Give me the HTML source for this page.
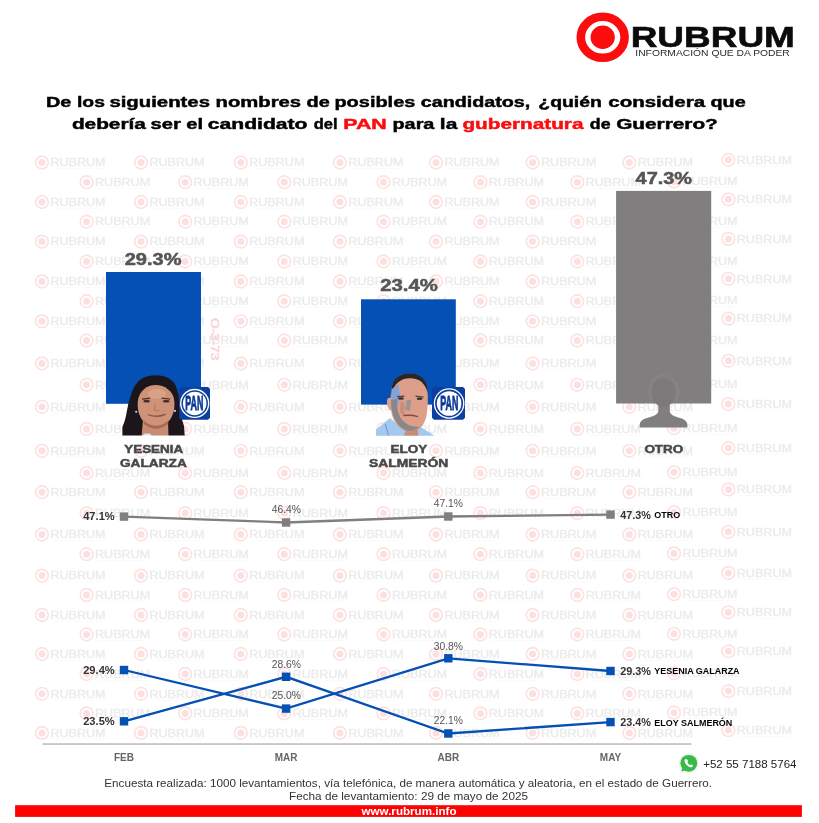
<!DOCTYPE html>
<html lang="es"><head><meta charset="utf-8"><title>Rubrum</title>
<style>
html,body{margin:0;padding:0;background:#fff;}
body{width:819px;height:823px;overflow:hidden;font-family:"Liberation Sans",sans-serif;}
svg{display:block;}
svg text{font-family:"Liberation Sans",sans-serif;}
</style></head><body>
<svg width="819" height="823" viewBox="0 0 819 823">
<defs>
<g id="wm">
  <circle cx="0" cy="0" r="6.3" fill="none" stroke="#fce2e2" stroke-width="1.7"/>
  <circle cx="0" cy="0" r="3.5" fill="#fce0e0"/>
  <text x="8.4" y="3.7" font-size="10.1" fill="#ebebeb" stroke="#ebebeb" stroke-width="0.35" textLength="55.2" lengthAdjust="spacingAndGlyphs">RUBRUM</text>
  <rect x="11" y="5.8" width="50" height="0.7" fill="#f8f8f8"/>
</g>
<g id="panring">
  <text x="-9.1" y="6.9" font-size="19.8" font-weight="bold" fill="#0c3a9a" stroke="#0c3a9a" stroke-width="0.9" textLength="18.1" lengthAdjust="spacingAndGlyphs">PAN</text>
</g>
<clipPath id="c1"><rect x="120" y="370" width="68" height="65.6"/></clipPath>
<clipPath id="c2"><rect x="374" y="370" width="62" height="65.8"/></clipPath>
<clipPath id="c3"><rect x="616.1" y="190.9" width="95.1" height="212.6"/></clipPath>
<filter id="b2" x="0" y="0" width="819" height="823" filterUnits="userSpaceOnUse"><feGaussianBlur stdDeviation="0.45"/></filter>
<filter id="b1"><feGaussianBlur stdDeviation="0.6"/></filter>
</defs>
<rect width="819" height="823" fill="#fff"/>
<g opacity="0.999">

<g id="watermark" filter="url(#b2)">
<use href="#wm" x="42" y="162.5"/>
<use href="#wm" x="141" y="162.5"/>
<use href="#wm" x="240.8" y="162.5"/>
<use href="#wm" x="339.9" y="162.5"/>
<use href="#wm" x="436" y="162.5"/>
<use href="#wm" x="532.6" y="162.5"/>
<use href="#wm" x="629.3" y="162.5"/>
<use href="#wm" x="728.4" y="159.8"/>
<use href="#wm" x="86.6" y="182.2"/>
<use href="#wm" x="185.2" y="182.2"/>
<use href="#wm" x="284.3" y="182.2"/>
<use href="#wm" x="383.5" y="182.2"/>
<use href="#wm" x="480.4" y="182.2"/>
<use href="#wm" x="577.3" y="182.2"/>
<use href="#wm" x="674" y="181.5"/>
<use href="#wm" x="42" y="202"/>
<use href="#wm" x="141" y="202"/>
<use href="#wm" x="240.8" y="202"/>
<use href="#wm" x="339.9" y="202"/>
<use href="#wm" x="436" y="202"/>
<use href="#wm" x="532.6" y="202"/>
<use href="#wm" x="629.3" y="202"/>
<use href="#wm" x="728.4" y="199.3"/>
<use href="#wm" x="86.6" y="221.7"/>
<use href="#wm" x="185.2" y="221.7"/>
<use href="#wm" x="284.3" y="221.7"/>
<use href="#wm" x="383.5" y="221.7"/>
<use href="#wm" x="480.4" y="221.7"/>
<use href="#wm" x="577.3" y="221.7"/>
<use href="#wm" x="674" y="221.0"/>
<use href="#wm" x="42" y="241.6"/>
<use href="#wm" x="141" y="241.6"/>
<use href="#wm" x="240.8" y="241.6"/>
<use href="#wm" x="339.9" y="241.6"/>
<use href="#wm" x="436" y="241.6"/>
<use href="#wm" x="532.6" y="241.6"/>
<use href="#wm" x="629.3" y="241.6"/>
<use href="#wm" x="728.4" y="238.9"/>
<use href="#wm" x="86.6" y="261.5"/>
<use href="#wm" x="185.2" y="261.5"/>
<use href="#wm" x="284.3" y="261.5"/>
<use href="#wm" x="383.5" y="261.5"/>
<use href="#wm" x="480.4" y="261.5"/>
<use href="#wm" x="577.3" y="261.5"/>
<use href="#wm" x="674" y="260.8"/>
<use href="#wm" x="42" y="281.5"/>
<use href="#wm" x="141" y="281.5"/>
<use href="#wm" x="240.8" y="281.5"/>
<use href="#wm" x="339.9" y="281.5"/>
<use href="#wm" x="436" y="281.5"/>
<use href="#wm" x="532.6" y="281.5"/>
<use href="#wm" x="629.3" y="281.5"/>
<use href="#wm" x="728.4" y="278.8"/>
<use href="#wm" x="86.6" y="301.2"/>
<use href="#wm" x="185.2" y="301.2"/>
<use href="#wm" x="284.3" y="301.2"/>
<use href="#wm" x="383.5" y="301.2"/>
<use href="#wm" x="480.4" y="301.2"/>
<use href="#wm" x="577.3" y="301.2"/>
<use href="#wm" x="674" y="300.5"/>
<use href="#wm" x="42" y="321.3"/>
<use href="#wm" x="141" y="321.3"/>
<use href="#wm" x="240.8" y="321.3"/>
<use href="#wm" x="339.9" y="321.3"/>
<use href="#wm" x="436" y="321.3"/>
<use href="#wm" x="532.6" y="321.3"/>
<use href="#wm" x="629.3" y="321.3"/>
<use href="#wm" x="728.4" y="318.6"/>
<use href="#wm" x="86.6" y="340.5"/>
<use href="#wm" x="185.2" y="340.5"/>
<use href="#wm" x="284.3" y="340.5"/>
<use href="#wm" x="383.5" y="340.5"/>
<use href="#wm" x="480.4" y="340.5"/>
<use href="#wm" x="577.3" y="340.5"/>
<use href="#wm" x="674" y="339.8"/>
<use href="#wm" x="42" y="363.5"/>
<use href="#wm" x="141" y="363.5"/>
<use href="#wm" x="240.8" y="363.5"/>
<use href="#wm" x="339.9" y="363.5"/>
<use href="#wm" x="436" y="363.5"/>
<use href="#wm" x="532.6" y="363.5"/>
<use href="#wm" x="629.3" y="363.5"/>
<use href="#wm" x="728.4" y="360.8"/>
<use href="#wm" x="86.6" y="384.8"/>
<use href="#wm" x="185.2" y="384.8"/>
<use href="#wm" x="284.3" y="384.8"/>
<use href="#wm" x="383.5" y="384.8"/>
<use href="#wm" x="480.4" y="384.8"/>
<use href="#wm" x="577.3" y="384.8"/>
<use href="#wm" x="674" y="384.1"/>
<use href="#wm" x="42" y="406.8"/>
<use href="#wm" x="141" y="406.8"/>
<use href="#wm" x="240.8" y="406.8"/>
<use href="#wm" x="339.9" y="406.8"/>
<use href="#wm" x="436" y="406.8"/>
<use href="#wm" x="532.6" y="406.8"/>
<use href="#wm" x="629.3" y="406.8"/>
<use href="#wm" x="728.4" y="404.1"/>
<use href="#wm" x="86.6" y="428.9"/>
<use href="#wm" x="185.2" y="428.9"/>
<use href="#wm" x="284.3" y="428.9"/>
<use href="#wm" x="383.5" y="428.9"/>
<use href="#wm" x="480.4" y="428.9"/>
<use href="#wm" x="577.3" y="428.9"/>
<use href="#wm" x="674" y="428.2"/>
<use href="#wm" x="42" y="450.8"/>
<use href="#wm" x="141" y="450.8"/>
<use href="#wm" x="240.8" y="450.8"/>
<use href="#wm" x="339.9" y="450.8"/>
<use href="#wm" x="436" y="450.8"/>
<use href="#wm" x="532.6" y="450.8"/>
<use href="#wm" x="629.3" y="450.8"/>
<use href="#wm" x="728.4" y="448.1"/>
<use href="#wm" x="86.6" y="473"/>
<use href="#wm" x="185.2" y="473"/>
<use href="#wm" x="284.3" y="473"/>
<use href="#wm" x="383.5" y="473"/>
<use href="#wm" x="480.4" y="473"/>
<use href="#wm" x="577.3" y="473"/>
<use href="#wm" x="674" y="472.3"/>
<use href="#wm" x="42" y="492.2"/>
<use href="#wm" x="141" y="492.2"/>
<use href="#wm" x="240.8" y="492.2"/>
<use href="#wm" x="339.9" y="492.2"/>
<use href="#wm" x="436" y="492.2"/>
<use href="#wm" x="532.6" y="492.2"/>
<use href="#wm" x="629.3" y="492.2"/>
<use href="#wm" x="728.4" y="489.5"/>
<use href="#wm" x="86.6" y="513.1"/>
<use href="#wm" x="185.2" y="513.1"/>
<use href="#wm" x="284.3" y="513.1"/>
<use href="#wm" x="383.5" y="513.1"/>
<use href="#wm" x="480.4" y="513.1"/>
<use href="#wm" x="577.3" y="513.1"/>
<use href="#wm" x="674" y="512.4"/>
<use href="#wm" x="42" y="534.5"/>
<use href="#wm" x="141" y="534.5"/>
<use href="#wm" x="240.8" y="534.5"/>
<use href="#wm" x="339.9" y="534.5"/>
<use href="#wm" x="436" y="534.5"/>
<use href="#wm" x="532.6" y="534.5"/>
<use href="#wm" x="629.3" y="534.5"/>
<use href="#wm" x="728.4" y="531.8"/>
<use href="#wm" x="86.6" y="554.2"/>
<use href="#wm" x="185.2" y="554.2"/>
<use href="#wm" x="284.3" y="554.2"/>
<use href="#wm" x="383.5" y="554.2"/>
<use href="#wm" x="480.4" y="554.2"/>
<use href="#wm" x="577.3" y="554.2"/>
<use href="#wm" x="674" y="553.5"/>
<use href="#wm" x="42" y="575.6"/>
<use href="#wm" x="141" y="575.6"/>
<use href="#wm" x="240.8" y="575.6"/>
<use href="#wm" x="339.9" y="575.6"/>
<use href="#wm" x="436" y="575.6"/>
<use href="#wm" x="532.6" y="575.6"/>
<use href="#wm" x="629.3" y="575.6"/>
<use href="#wm" x="728.4" y="572.9"/>
<use href="#wm" x="86.6" y="594.9"/>
<use href="#wm" x="185.2" y="594.9"/>
<use href="#wm" x="284.3" y="594.9"/>
<use href="#wm" x="383.5" y="594.9"/>
<use href="#wm" x="480.4" y="594.9"/>
<use href="#wm" x="577.3" y="594.9"/>
<use href="#wm" x="674" y="594.1999999999999"/>
<use href="#wm" x="42" y="615"/>
<use href="#wm" x="141" y="615"/>
<use href="#wm" x="240.8" y="615"/>
<use href="#wm" x="339.9" y="615"/>
<use href="#wm" x="436" y="615"/>
<use href="#wm" x="532.6" y="615"/>
<use href="#wm" x="629.3" y="615"/>
<use href="#wm" x="728.4" y="612.3"/>
<use href="#wm" x="86.6" y="634.5"/>
<use href="#wm" x="185.2" y="634.5"/>
<use href="#wm" x="284.3" y="634.5"/>
<use href="#wm" x="383.5" y="634.5"/>
<use href="#wm" x="480.4" y="634.5"/>
<use href="#wm" x="577.3" y="634.5"/>
<use href="#wm" x="674" y="633.8"/>
<use href="#wm" x="42" y="654"/>
<use href="#wm" x="141" y="654"/>
<use href="#wm" x="240.8" y="654"/>
<use href="#wm" x="339.9" y="654"/>
<use href="#wm" x="436" y="654"/>
<use href="#wm" x="532.6" y="654"/>
<use href="#wm" x="629.3" y="654"/>
<use href="#wm" x="728.4" y="651.3"/>
<use href="#wm" x="86.6" y="674"/>
<use href="#wm" x="185.2" y="674"/>
<use href="#wm" x="284.3" y="674"/>
<use href="#wm" x="383.5" y="674"/>
<use href="#wm" x="480.4" y="674"/>
<use href="#wm" x="577.3" y="674"/>
<use href="#wm" x="674" y="673.3"/>
<use href="#wm" x="42" y="693.8"/>
<use href="#wm" x="141" y="693.8"/>
<use href="#wm" x="240.8" y="693.8"/>
<use href="#wm" x="339.9" y="693.8"/>
<use href="#wm" x="436" y="693.8"/>
<use href="#wm" x="532.6" y="693.8"/>
<use href="#wm" x="629.3" y="693.8"/>
<use href="#wm" x="728.4" y="691.0999999999999"/>
<use href="#wm" x="86.6" y="713.4"/>
<use href="#wm" x="185.2" y="713.4"/>
<use href="#wm" x="284.3" y="713.4"/>
<use href="#wm" x="383.5" y="713.4"/>
<use href="#wm" x="480.4" y="713.4"/>
<use href="#wm" x="577.3" y="713.4"/>
<use href="#wm" x="674" y="712.6999999999999"/>
<use href="#wm" x="42" y="732.9"/>
<use href="#wm" x="141" y="732.9"/>
<use href="#wm" x="240.8" y="732.9"/>
<use href="#wm" x="339.9" y="732.9"/>
<use href="#wm" x="436" y="732.9"/>
<use href="#wm" x="532.6" y="732.9"/>
<use href="#wm" x="629.3" y="732.9"/>
<use href="#wm" x="728.4" y="730.1999999999999"/>
</g>
<g id="logo">
<ellipse cx="602.7" cy="37.3" rx="21.9" ry="20.5" fill="none" stroke="#fb0d0d" stroke-width="8.6"/>
<ellipse cx="602.7" cy="37.3" rx="12.1" ry="11.7" fill="#fb0d0d"/>

<text x="630.7" y="46.8" font-size="29.4" fill="#0b0b0b" font-weight="bold" text-anchor="start" textLength="164.2" lengthAdjust="spacingAndGlyphs" stroke="#0b0b0b" stroke-width="0.6">RUBRUM</text>
<text x="635.3" y="55.6" font-size="8.7" fill="#2a2a2a" font-weight="normal" text-anchor="start" textLength="154.5" lengthAdjust="spacingAndGlyphs">INFORMACIÓN QUE DA PODER</text>
</g>
<g id="title" font-weight="bold" stroke-width="0.45">
<text x="45.9" y="107.3" font-size="14.7" fill="#000" font-weight="bold" text-anchor="start" textLength="25.4" lengthAdjust="spacingAndGlyphs" stroke="#000">De</text>
<text x="77" y="107.3" font-size="14.7" fill="#000" font-weight="bold" text-anchor="start" textLength="27.9" lengthAdjust="spacingAndGlyphs" stroke="#000">los</text>
<text x="109.4" y="107.3" font-size="14.7" fill="#000" font-weight="bold" text-anchor="start" textLength="100.6" lengthAdjust="spacingAndGlyphs" stroke="#000">siguientes</text>
<text x="215.6" y="107.3" font-size="14.7" fill="#000" font-weight="bold" text-anchor="start" textLength="85.5" lengthAdjust="spacingAndGlyphs" stroke="#000">nombres</text>
<text x="306.5" y="107.3" font-size="14.7" fill="#000" font-weight="bold" text-anchor="start" textLength="23.2" lengthAdjust="spacingAndGlyphs" stroke="#000">de</text>
<text x="334.4" y="107.3" font-size="14.7" fill="#000" font-weight="bold" text-anchor="start" textLength="81.0" lengthAdjust="spacingAndGlyphs" stroke="#000">posibles</text>
<text x="420.8" y="107.3" font-size="14.7" fill="#000" font-weight="bold" text-anchor="start" textLength="109.5" lengthAdjust="spacingAndGlyphs" stroke="#000">candidatos,</text>
<text x="538.3" y="107.3" font-size="14.7" fill="#000" font-weight="bold" text-anchor="start" textLength="63.6" lengthAdjust="spacingAndGlyphs" stroke="#000">¿quién</text>
<text x="608.3" y="107.3" font-size="14.7" fill="#000" font-weight="bold" text-anchor="start" textLength="96.8" lengthAdjust="spacingAndGlyphs" stroke="#000">considera</text>
<text x="710.5" y="107.3" font-size="14.7" fill="#000" font-weight="bold" text-anchor="start" textLength="35.2" lengthAdjust="spacingAndGlyphs" stroke="#000">que</text>
<text x="71.9" y="128.6" font-size="14.7" fill="#000" font-weight="bold" text-anchor="start" textLength="74.0" lengthAdjust="spacingAndGlyphs" stroke="#000">debería</text>
<text x="150.6" y="128.6" font-size="14.7" fill="#000" font-weight="bold" text-anchor="start" textLength="30.2" lengthAdjust="spacingAndGlyphs" stroke="#000">ser</text>
<text x="186.2" y="128.6" font-size="14.7" fill="#000" font-weight="bold" text-anchor="start" textLength="16.8" lengthAdjust="spacingAndGlyphs" stroke="#000">el</text>
<text x="207.8" y="128.6" font-size="14.7" fill="#000" font-weight="bold" text-anchor="start" textLength="99.7" lengthAdjust="spacingAndGlyphs" stroke="#000">candidato</text>
<text x="313.8" y="128.6" font-size="14.7" fill="#000" font-weight="bold" text-anchor="start" textLength="23.8" lengthAdjust="spacingAndGlyphs" stroke="#000">del</text>
<text x="343.3" y="128.6" font-size="14.7" fill="#fb0d0d" font-weight="bold" text-anchor="start" textLength="43.5" lengthAdjust="spacingAndGlyphs" stroke="#fb0d0d">PAN</text>
<text x="392.5" y="128.6" font-size="14.7" fill="#000" font-weight="bold" text-anchor="start" textLength="41.9" lengthAdjust="spacingAndGlyphs" stroke="#000">para</text>
<text x="439.8" y="128.6" font-size="14.7" fill="#000" font-weight="bold" text-anchor="start" textLength="17.5" lengthAdjust="spacingAndGlyphs" stroke="#000">la</text>
<text x="462.4" y="128.6" font-size="14.7" fill="#fb0d0d" font-weight="bold" text-anchor="start" textLength="121.1" lengthAdjust="spacingAndGlyphs" stroke="#fb0d0d">gubernatura</text>
<text x="589.8" y="128.6" font-size="14.7" fill="#000" font-weight="bold" text-anchor="start" textLength="20.7" lengthAdjust="spacingAndGlyphs" stroke="#000">de</text>
<text x="616.2" y="128.6" font-size="14.7" fill="#000" font-weight="bold" text-anchor="start" textLength="101.6" lengthAdjust="spacingAndGlyphs" stroke="#000">Guerrero?</text>
</g>
<rect x="106" y="272" width="95" height="131.8" fill="#0450b4"/>
<rect x="361" y="299.3" width="94.8" height="105.3" fill="#0450b4"/>
<rect x="616.1" y="190.9" width="95.1" height="212.6" fill="#807e7f"/>
<text x="124.7" y="265.4" font-size="15.9" fill="#555" font-weight="bold" text-anchor="start" textLength="56.8" lengthAdjust="spacingAndGlyphs" stroke="#555" stroke-width="0.5">29.3%</text>
<text x="380.2" y="290.8" font-size="15.9" fill="#555" font-weight="bold" text-anchor="start" textLength="57.7" lengthAdjust="spacingAndGlyphs" stroke="#555" stroke-width="0.5">23.4%</text>
<text x="635.6" y="184.0" font-size="15.9" fill="#555" font-weight="bold" text-anchor="start" textLength="56.5" lengthAdjust="spacingAndGlyphs" stroke="#555" stroke-width="0.5">47.3%</text>
<g clip-path="url(#c1)"><g filter="url(#b1)">
<path d="M156 375.2 C150 375.2 145 376.5 141.7 378.8 C139.5 380 138 381.5 136.9 383.2 C133.5 387 131.8 391.5 130.7 396 C129.3 400 128.3 403.5 127.7 407 C127 410 126.5 413 126 415.7 C125 420 123.8 424 122.4 427 L122.4 437 L184.8 437 L184 426 C182.8 422 181.8 419 181.3 415.7 C180.7 412 180 408.5 179.5 405 C179.3 402 179 399 178.7 396 C177.8 391 176.5 387 174.3 383 C171 378.5 164 375.2 156 375.2 Z" fill="#1c181a"/>
<path d="M141.5 437 L143 420 L168 420 L168.5 437 Z" fill="#c88c72"/>
<path d="M155.6 385 C147 385 139.5 391 138 400 C137 408 138.5 414 141.5 419 C145 424 150 426.8 155.6 426.8 C161.5 426.8 167 424 170.5 419 C174 413 175 407 174.2 400 C173 391 164.5 385 155.6 385 Z" fill="#cd9277"/>
<path d="M143.5 420.5 Q155.6 431 168.5 420.5 L168 424 Q155.6 433.5 144 424 Z" fill="#a9694f"/>
<ellipse cx="157" cy="394" rx="9" ry="5" fill="#d9a187"/>
<path d="M142 398.6 l8 -1 l0 1.3 l-8 0.9 Z M161.6 397.4 l8.6 1 l0 1.3 l-8.6 -1 Z" fill="#4b342e"/>
<ellipse cx="146.6" cy="401.3" rx="3.3" ry="1.2" fill="#3a2c2a"/>
<ellipse cx="166.2" cy="401.3" rx="3.3" ry="1.2" fill="#3a2c2a"/>
<path d="M155.3 404 L154.3 410 Q156.8 411.6 159.4 410" stroke="#b0735c" stroke-width="1" fill="none"/>
<path d="M148 414.6 Q156.5 418.2 165.5 414.2" stroke="#94554a" stroke-width="1.5" fill="none"/>
<circle cx="136.2" cy="411.8" r="1.1" fill="#c6cdd2"/><circle cx="175" cy="410.9" r="1.1" fill="#c6cdd2"/>
<path d="M141 437 L144.5 433.6 L150 433.6 L152.5 437 Z" fill="#dde4ec"/>
</g></g>
<path d="M181.2 387 L208 387 L210 389 L210 417.8 L208 419.8 L181.2 419.8 L179.2 417.8 L179.2 389 Z" fill="#0c3f9e"/><circle cx="194.7" cy="403.4" r="14.65" fill="#fff"/><circle cx="194.7" cy="403.4" r="12.5" fill="none" stroke="#0c3f9e" stroke-width="1.5"/><use href="#panring" x="194.45" y="403.5"/>
<g clip-path="url(#c2)"><g filter="url(#b1)">
<path d="M376 437 L376 429.5 L390 418 L397 424 L409 432 L419 426 L433.5 435 L433.5 437 Z" fill="#a3c9ee"/>
<path d="M410 373.7 C398 373.7 391.2 381 391 392 L390.6 398 C388 397 386.6 399 387 403 C387.4 407.5 389 410.5 391.2 410.5 C392 420 399 431.8 411 431.8 C420.5 431.8 426 423 427 412 C428 405 428 398 427.6 393 C427 381 421 373.7 410 373.7 Z" fill="#dd9f8a"/>
<path d="M391 395 C390.4 381 397 373.4 410 373.4 C421.5 373.4 427.6 380.5 427.8 393 C425 383 419.5 378.3 410 378.3 C400 378.3 394.2 384 391 395 Z" fill="#2b2523"/>
<path d="M391.3 389.5 L398.4 384.2 L400.2 397 L397 409.5 L391.5 410.5 Z" fill="#86a3d8"/>
<path d="M391 400 C390.6 412 395 424 404 429.5 C409 432 414.5 431.5 420 426.5 C413 427.5 406 425 401.5 419 C397.5 413 396.5 406 397.2 399 Z" fill="#898788"/>
<path d="M406.8 400 L405 409.2 L410 411 L411.2 400 Z" fill="#9c9594"/>
<path d="M400.6 401 L400 412 L404 417 L404.5 403 Z" fill="#c98e78"/>
<path d="M397 396 l7.4 -0.6 l0 1.4 l-7.4 0.6 Z M415.6 395.6 l8 0.8 l0 1.4 l-8 -0.8 Z" fill="#5a4540"/>
<ellipse cx="401" cy="398.5" rx="3" ry="1.2" fill="#3a3234"/>
<ellipse cx="419.6" cy="398.8" rx="3" ry="1.2" fill="#3a3234"/>
<path d="M403.5 415.6 Q410.5 414.4 418 416.6" stroke="#7e4d48" stroke-width="1.5" fill="none"/>
<path d="M403 437 L406 430.5 Q411 433 417.5 428 L418.5 437 Z" fill="#c58d76"/>
<path d="M385.5 424 L388.5 436" stroke="#5f86cc" stroke-width="0.8" fill="none"/>
</g></g>
<path d="M434 387 L463 387 L465 389 L465 417.8 L463 419.8 L434 419.8 L432 417.8 L432 389 Z" fill="#0c3f9e"/><circle cx="449.1" cy="403.45" r="15.3" fill="#fff"/><circle cx="449.1" cy="403.45" r="13.15" fill="none" stroke="#0c3f9e" stroke-width="1.7"/><use href="#panring" x="449.45" y="403.5"/>
<g fill="#807e7f">
<ellipse clip-path="url(#c3)" cx="663.6" cy="392" rx="14.4" ry="16.4" fill="none" stroke="#8c8a8b" stroke-width="2" stroke-dasharray="1 0.8"/>
<path d="M658.3 403 L658.3 411 C658.3 415 652 416.5 647 418 C642 419.5 639.7 422 639.7 425 L639.7 427.4 L687.4 427.4 L687.4 425 C687.4 422 685 419.5 680 418 C675 416.5 669.8 415 669.8 411 L669.8 403 Z"/>
<path d="M663.4 379.3 C656.5 379.3 652.8 383.5 652.8 390 L652.8 396 C652.8 402 657 406.5 663.4 406.5 C670 406.5 674.1 402 674.1 396 L674.1 390 C674.1 383.5 670.3 379.3 663.4 379.3 Z" fill="#7b797a"/>
</g>
<text transform="translate(210.6,318) rotate(90)" font-size="10.4" fill="#fbd0d0" stroke="#fbd0d0" stroke-width="0.4" textLength="42.3" lengthAdjust="spacingAndGlyphs">O-3-73</text>
<text x="124.2" y="452.5" font-size="10.4" fill="#484848" font-weight="bold" text-anchor="start" textLength="59.1" lengthAdjust="spacingAndGlyphs" stroke="#484848" stroke-width="0.45">YESENIA</text>
<text x="119.9" y="466.8" font-size="10.4" fill="#484848" font-weight="bold" text-anchor="start" textLength="66.9" lengthAdjust="spacingAndGlyphs" stroke="#484848" stroke-width="0.45">GALARZA</text>
<text x="390.6" y="452.9" font-size="10.4" fill="#484848" font-weight="bold" text-anchor="start" textLength="36.7" lengthAdjust="spacingAndGlyphs" stroke="#484848" stroke-width="0.45">ELOY</text>
<text x="369.0" y="467.0" font-size="10.4" fill="#484848" font-weight="bold" text-anchor="start" textLength="79.3" lengthAdjust="spacingAndGlyphs" stroke="#484848" stroke-width="0.45">SALMERÓN</text>
<text x="644.4" y="452.7" font-size="10.4" fill="#484848" font-weight="bold" text-anchor="start" textLength="38.9" lengthAdjust="spacingAndGlyphs" stroke="#484848" stroke-width="0.45">OTRO</text>
<rect x="42.5" y="743.2" width="649" height="1.7" fill="#c2c2c2"/>
<polyline points="124,516.6 286.1,522.5 448.3,516.5 610.5,514.6" fill="none" stroke="#807e7f" stroke-width="2.3"/><rect x="119.8" y="512.4" width="8.4" height="8.4" fill="#807e7f"/><rect x="281.90000000000003" y="518.3" width="8.4" height="8.4" fill="#807e7f"/><rect x="444.1" y="512.3" width="8.4" height="8.4" fill="#807e7f"/><rect x="606.3" y="510.40000000000003" width="8.4" height="8.4" fill="#807e7f"/>
<polyline points="124,670 286.1,708.6 448.3,658.3 610.5,671" fill="none" stroke="#0450b4" stroke-width="2.3"/><rect x="119.8" y="665.8" width="8.4" height="8.4" fill="#0450b4"/><rect x="281.90000000000003" y="704.4" width="8.4" height="8.4" fill="#0450b4"/><rect x="444.1" y="654.0999999999999" width="8.4" height="8.4" fill="#0450b4"/><rect x="606.3" y="666.8" width="8.4" height="8.4" fill="#0450b4"/>
<polyline points="124,721.3 286.1,676.8 448.3,733.5 610.5,722.1" fill="none" stroke="#0450b4" stroke-width="2.3"/><rect x="119.8" y="717.0999999999999" width="8.4" height="8.4" fill="#0450b4"/><rect x="281.90000000000003" y="672.5999999999999" width="8.4" height="8.4" fill="#0450b4"/><rect x="444.1" y="729.3" width="8.4" height="8.4" fill="#0450b4"/><rect x="606.3" y="717.9" width="8.4" height="8.4" fill="#0450b4"/>
<text x="83.2" y="520.3" font-size="10.3" fill="#333" font-weight="bold" text-anchor="start" textLength="31.5" lengthAdjust="spacingAndGlyphs">47.1%</text>
<text x="83.2" y="673.8" font-size="10.3" fill="#333" font-weight="bold" text-anchor="start" textLength="31.5" lengthAdjust="spacingAndGlyphs">29.4%</text>
<text x="83.2" y="725.3" font-size="10.3" fill="#333" font-weight="bold" text-anchor="start" textLength="31.5" lengthAdjust="spacingAndGlyphs">23.5%</text>
<text x="286.3" y="513" font-size="10.3" fill="#555" font-weight="normal" text-anchor="middle">46.4%</text>
<text x="448.3" y="507.2" font-size="10.3" fill="#555" font-weight="normal" text-anchor="middle">47.1%</text>
<text x="286.3" y="668.3" font-size="10.3" fill="#555" font-weight="normal" text-anchor="middle">28.6%</text>
<text x="286.3" y="699.2" font-size="10.3" fill="#555" font-weight="normal" text-anchor="middle">25.0%</text>
<text x="448.3" y="649.5" font-size="10.3" fill="#555" font-weight="normal" text-anchor="middle">30.8%</text>
<text x="448.3" y="724" font-size="10.3" fill="#555" font-weight="normal" text-anchor="middle">22.1%</text>
<text x="620.2" y="518.8" font-size="10.3" fill="#333" font-weight="bold" text-anchor="start" textLength="30.8" lengthAdjust="spacingAndGlyphs">47.3%</text>
<text x="620.2" y="674.8" font-size="10.3" fill="#333" font-weight="bold" text-anchor="start" textLength="30.8" lengthAdjust="spacingAndGlyphs">29.3%</text>
<text x="620.2" y="725.9" font-size="10.3" fill="#333" font-weight="bold" text-anchor="start" textLength="30.8" lengthAdjust="spacingAndGlyphs">23.4%</text>
<text x="654.3" y="518.4" font-size="8.8" fill="#000" font-weight="bold" text-anchor="start" textLength="25.9" lengthAdjust="spacingAndGlyphs">OTRO</text>
<text x="654.3" y="674.4" font-size="8.8" fill="#000" font-weight="bold" text-anchor="start" textLength="85.3" lengthAdjust="spacingAndGlyphs">YESENIA GALARZA</text>
<text x="654.3" y="725.5" font-size="8.8" fill="#000" font-weight="bold" text-anchor="start" textLength="78" lengthAdjust="spacingAndGlyphs">ELOY SALMERÓN</text>
<text x="124" y="761.3" font-size="10" fill="#666" font-weight="bold" text-anchor="middle">FEB</text>
<text x="286.1" y="761.3" font-size="10" fill="#666" font-weight="bold" text-anchor="middle">MAR</text>
<text x="448.3" y="761.3" font-size="10" fill="#666" font-weight="bold" text-anchor="middle">ABR</text>
<text x="610.5" y="761.3" font-size="10" fill="#666" font-weight="bold" text-anchor="middle">MAY</text>
<g id="wa">
<circle cx="688.8" cy="763.3" r="10.2" fill="#f1f1f1"/><path d="M679.8 773.2 L682.2 766 L688 771 Z" fill="#f1f1f1"/>
<circle cx="688.8" cy="763.3" r="8.4" fill="#38ba49"/>
<path d="M681.3 771.6 L682.9 766.6 L686.4 769.9 Z" fill="#38ba49"/>
<path d="M685.6 758.9 c-0.9 0.5 -1.3 1.5 -1 2.6 c0.7 2.6 3 5 5.700000000000001 5.8 c1.1 0.3 2.1 -0.1 2.6 -1 l0.3 -0.6 l-2 -1.4 l-1 0.9 c-1.1 -0.5 -2.3 -1.7 -2.8 -2.9 l0.9 -1 l-1.4 -2.1 Z" fill="#fff"/>
</g>
<text x="703.2" y="768.2" font-size="10.6" fill="#222" font-weight="normal" text-anchor="start" textLength="93.3" lengthAdjust="spacingAndGlyphs">+52 55 7188 5764</text>
<text x="104.3" y="787.2" font-size="10.2" fill="#333" font-weight="normal" text-anchor="start" textLength="607.7" lengthAdjust="spacingAndGlyphs">Encuesta realizada: 1000 levantamientos, vía telefónica, de manera automática y aleatoria, en el estado de Guerrero.</text>
<text x="289" y="800.2" font-size="10.2" fill="#333" font-weight="normal" text-anchor="start" textLength="239" lengthAdjust="spacingAndGlyphs">Fecha de levantamiento: 29 de mayo de 2025</text>
<rect x="15.1" y="805.2" width="786.8" height="11.7" fill="#fb0303"/>
<text x="409" y="815.2" font-size="10" fill="#fff" font-weight="bold" text-anchor="middle" textLength="95" lengthAdjust="spacingAndGlyphs">www.rubrum.info</text>
</g></svg></body></html>
